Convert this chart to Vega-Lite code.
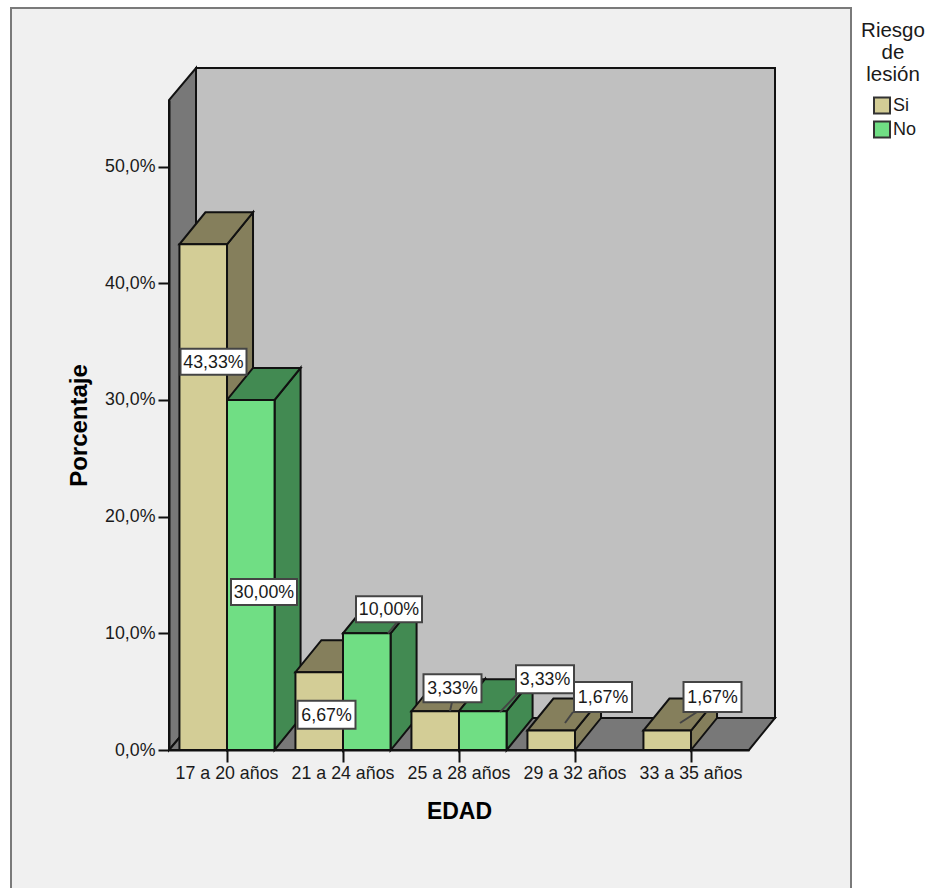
{
  "$schema": "https://vega.github.io/schema/vega-lite/v6.json",
  "autosize": "none",
  "width": 840,
  "height": 884,
  "padding": {"left": 11, "top": 8, "right": 77, "bottom": 0},
  "background": "#ffffff",
  "view": {"fill": "#f0f0f0", "stroke": "#7a7a7a", "strokeWidth": 2},
  "config": {"font": "Liberation Sans"},
  "datasets": {
    "barras": [
      {"edad": "17 a 20 años", "riesgo": "Si", "valor": 43.33, "etiqueta": "43,33%"},
      {"edad": "17 a 20 años", "riesgo": "No", "valor": 30.0, "etiqueta": "30,00%"},
      {"edad": "21 a 24 años", "riesgo": "Si", "valor": 6.67, "etiqueta": "6,67%"},
      {"edad": "21 a 24 años", "riesgo": "No", "valor": 10.0, "etiqueta": "10,00%"},
      {"edad": "25 a 28 años", "riesgo": "Si", "valor": 3.33, "etiqueta": "3,33%"},
      {"edad": "25 a 28 años", "riesgo": "No", "valor": 3.33, "etiqueta": "3,33%"},
      {"edad": "29 a 32 años", "riesgo": "Si", "valor": 1.67, "etiqueta": "1,67%"},
      {"edad": "33 a 35 años", "riesgo": "Si", "valor": 1.67, "etiqueta": "1,67%"}
    ]
  },
  "data": {"name": "barras"},
  "encoding": {
    "x": {
      "field": "edad",
      "type": "nominal",
      "sort": null,
      "scale": {
        "domain": ["17 a 20 años", "21 a 24 años", "25 a 28 años", "29 a 32 años", "33 a 35 años"],
        "range": [158, 738],
        "paddingInner": 0.18,
        "paddingOuter": 0.09
      },
      "axis": {
        "title": "EDAD",
        "titleFontSize": 23,
        "titleFontWeight": "bold",
        "titleColor": "#000000",
        "titlePadding": 19,
        "labelAngle": 0,
        "labelFontSize": 17.8,
        "labelColor": "#1a1a1a",
        "labelPadding": 2,
        "tickSize": 12,
        "tickColor": "#111111",
        "tickWidth": 2,
        "domainColor": "#111111",
        "domainWidth": 2,
        "offset": -142,
        "grid": false,
        "zindex": 1
      }
    },
    "y": {
      "field": "valor",
      "type": "quantitative",
      "scale": {"domain": [0, 55.7], "range": [742, 92], "nice": false, "zero": true},
      "axis": {
        "title": "Porcentaje",
        "titleFontSize": 24,
        "titleFontWeight": "bold",
        "titleColor": "#000000",
        "titlePadding": 13,
        "values": [0, 10, 20, 30, 40, 50],
        "labelExpr": "replace(format(datum.value, '.1f'), '.', ',') + '%'",
        "labelFontSize": 17.8,
        "labelColor": "#1a1a1a",
        "labelPadding": 3,
        "tickSize": 11,
        "tickColor": "#111111",
        "tickWidth": 2,
        "domainColor": "#111111",
        "domainWidth": 2,
        "offset": -158,
        "grid": false,
        "zindex": 1
      }
    }
  },
  "resolve": {"scale": {"fill": "independent", "shape": "independent"}},
  "layer": [
    {
      "description": "Pared del fondo",
      "transform": [{"filter": "datum.etiqueta === '43,33%'"}],
      "mark": {"type": "point", "filled": true, "opacity": 1, "size": 4, "fill": "#c0c0c0", "stroke": "#111111", "strokeWidth": 2, "shape": "M-31,-32L-31,-682L548,-682L548,-32Z"},
      "encoding": {"y": {"datum": 0, "type": "quantitative"}}
    },
    {
      "description": "Pared lateral",
      "transform": [{"filter": "datum.etiqueta === '43,33%'"}],
      "mark": {"type": "point", "filled": true, "opacity": 1, "size": 4, "fill": "#787878", "stroke": "#111111", "strokeWidth": 2, "shape": "M-58,0L-58,-650L-31,-682L-31,-32Z"},
      "encoding": {"y": {"datum": 0, "type": "quantitative"}}
    },
    {
      "description": "Suelo",
      "transform": [{"filter": "datum.etiqueta === '43,33%'"}],
      "mark": {"type": "point", "filled": true, "opacity": 1, "size": 4, "fill": "#787878", "stroke": "#111111", "strokeWidth": 2, "shape": "M-58,0L522,0L548,-32L-31,-32Z"},
      "encoding": {"y": {"datum": 0, "type": "quantitative"}}
    },
    {
      "description": "Cara lateral de cada barra; la altura de la cara sigue al valor",
      "mark": {"type": "point", "filled": true, "opacity": 1, "size": 4, "stroke": "#111111", "strokeWidth": 2},
      "encoding": {
        "xOffset": {"field": "riesgo", "type": "nominal", "scale": {"domain": ["Si", "No"], "paddingInner": 0, "paddingOuter": 0}},
        "fill": {"field": "riesgo", "type": "nominal", "legend": null, "scale": {"domain": ["Si", "No"], "range": ["#857f5c", "#428a52"]}},
        "shape": {
          "field": "etiqueta",
          "type": "nominal",
          "legend": null,
          "scale": {
            "domain": ["43,33%", "30,00%", "10,00%", "6,67%", "3,33%", "1,67%"],
            "range": [
              "M23.8,0L49.8,-32L49.8,473L23.8,505Z",
              "M23.8,0L49.8,-32L49.8,318L23.8,350Z",
              "M23.8,0L49.8,-32L49.8,85L23.8,117Z",
              "M23.8,0L49.8,-32L49.8,46L23.8,78Z",
              "M23.8,0L49.8,-32L49.8,7L23.8,39Z",
              "M23.8,0L49.8,-32L49.8,-12.5L23.8,19.5Z"
            ]
          }
        }
      }
    },
    {
      "description": "Cara superior de cada barra",
      "mark": {"type": "point", "filled": true, "opacity": 1, "size": 4, "stroke": "#111111", "strokeWidth": 2, "shape": "M-23.8,0L23.8,0L49.8,-32L2.2,-32Z"},
      "encoding": {
        "xOffset": {"field": "riesgo", "type": "nominal", "scale": {"domain": ["Si", "No"], "paddingInner": 0, "paddingOuter": 0}},
        "fill": {"field": "riesgo", "type": "nominal", "legend": null, "scale": {"domain": ["Si", "No"], "range": ["#857f5c", "#428a52"]}}
      }
    },
    {
      "description": "Cara frontal de cada barra",
      "mark": {"type": "bar", "stroke": "#111111", "strokeWidth": 2},
      "encoding": {
        "xOffset": {"field": "riesgo", "type": "nominal", "scale": {"domain": ["Si", "No"], "paddingInner": 0, "paddingOuter": 0}},
        "fill": {
          "field": "riesgo",
          "type": "nominal",
          "scale": {"domain": ["Si", "No"], "range": ["#d3cd96", "#70de84"]},
          "legend": {
            "orient": "none",
            "legendX": 850,
            "legendY": 13,
            "title": ["Riesgo", "de", "lesión"],
            "titleFontSize": 20.5,
            "titleFontWeight": "normal",
            "titleColor": "#1a1a1a",
            "titleLineHeight": 22,
            "titleAlign": "center",
            "titleAnchor": "middle",
            "titlePadding": 11,
            "labelFontSize": 18,
            "labelColor": "#1a1a1a",
            "labelOffset": 2,
            "symbolType": "square",
            "symbolSize": 256,
            "symbolOffset": 4,
            "symbolStrokeColor": "#333333",
            "symbolStrokeWidth": 2,
            "rowPadding": 0
          }
        }
      }
    },
    {
      "description": "Rótulo 43,33%",
      "transform": [{"filter": "datum.edad === '17 a 20 años' && datum.riesgo === 'Si'"}],
      "layer": [
        {"mark": {"type": "point", "filled": true, "opacity": 1, "size": 4, "fill": "#ffffff", "stroke": "#444444", "strokeWidth": 2, "xOffset": -13.5, "yOffset": 117.5, "shape": "M-33,-13H33V13H-33Z"}},
        {"mark": {"type": "text", "fontSize": 17.8, "color": "#1a1a1a", "xOffset": -13.5, "yOffset": 118.5, "baseline": "middle"}, "encoding": {"text": {"field": "etiqueta"}}}
      ]
    },
    {
      "description": "Rótulo 30,00%",
      "transform": [{"filter": "datum.edad === '17 a 20 años' && datum.riesgo === 'No'"}],
      "layer": [
        {"mark": {"type": "point", "filled": true, "opacity": 1, "size": 4, "fill": "#ffffff", "stroke": "#444444", "strokeWidth": 2, "xOffset": 37, "yOffset": 192, "shape": "M-33,-13H33V13H-33Z"}},
        {"mark": {"type": "text", "fontSize": 17.8, "color": "#1a1a1a", "xOffset": 37, "yOffset": 193, "baseline": "middle"}, "encoding": {"text": {"field": "etiqueta"}}}
      ]
    },
    {
      "description": "Rótulo 6,67%",
      "transform": [{"filter": "datum.edad === '21 a 24 años' && datum.riesgo === 'Si'"}],
      "layer": [
        {"mark": {"type": "point", "filled": true, "opacity": 1, "size": 4, "fill": "#ffffff", "stroke": "#444444", "strokeWidth": 2, "xOffset": -16.5, "yOffset": 42.5, "shape": "M-29,-14H29V14H-29Z"}},
        {"mark": {"type": "text", "fontSize": 17.8, "color": "#1a1a1a", "xOffset": -16.5, "yOffset": 43.5, "baseline": "middle"}, "encoding": {"text": {"field": "etiqueta"}}}
      ]
    },
    {
      "description": "Rótulo 10,00% con su guía",
      "transform": [{"filter": "datum.edad === '21 a 24 años' && datum.riesgo === 'No'"}],
      "layer": [
        {"mark": {"type": "point", "filled": true, "opacity": 1, "size": 4, "fill": "#ffffff", "stroke": "#444444", "strokeWidth": 2, "xOffset": 46, "yOffset": -24, "shape": "M-33,-13H33V13H-33ZM-1,24L8,13"}},
        {"mark": {"type": "text", "fontSize": 17.8, "color": "#1a1a1a", "xOffset": 46, "yOffset": -23, "baseline": "middle"}, "encoding": {"text": {"field": "etiqueta"}}}
      ]
    },
    {
      "description": "Rótulo 3,33% de Si con su guía",
      "transform": [{"filter": "datum.edad === '25 a 28 años' && datum.riesgo === 'Si'"}],
      "layer": [
        {"mark": {"type": "point", "filled": true, "opacity": 1, "size": 4, "fill": "#ffffff", "stroke": "#444444", "strokeWidth": 2, "xOffset": -6.5, "yOffset": -23, "shape": "M-29,-14H29V14H-29ZM-2.5,23L-0.5,14"}},
        {"mark": {"type": "text", "fontSize": 17.8, "color": "#1a1a1a", "xOffset": -6.5, "yOffset": -22, "baseline": "middle"}, "encoding": {"text": {"field": "etiqueta"}}}
      ]
    },
    {
      "description": "Rótulo 3,33% de No con su guía",
      "transform": [{"filter": "datum.edad === '25 a 28 años' && datum.riesgo === 'No'"}],
      "layer": [
        {"mark": {"type": "point", "filled": true, "opacity": 1, "size": 4, "fill": "#ffffff", "stroke": "#444444", "strokeWidth": 2, "xOffset": 86, "yOffset": -32, "shape": "M-29,-14H29V14H-29ZM-45,33L-27,14"}},
        {"mark": {"type": "text", "fontSize": 17.8, "color": "#1a1a1a", "xOffset": 86, "yOffset": -31, "baseline": "middle"}, "encoding": {"text": {"field": "etiqueta"}}}
      ]
    },
    {
      "description": "Rótulo 1,67% de 29 a 32 años con su guía",
      "transform": [{"filter": "datum.edad === '29 a 32 años'"}],
      "layer": [
        {"mark": {"type": "point", "filled": true, "opacity": 1, "size": 4, "fill": "#ffffff", "stroke": "#444444", "strokeWidth": 2, "xOffset": 28, "yOffset": -33.5, "shape": "M-29,-15H29V15H-29ZM-38,26L-30,15"}},
        {"mark": {"type": "text", "fontSize": 17.8, "color": "#1a1a1a", "xOffset": 28, "yOffset": -32.5, "baseline": "middle"}, "encoding": {"text": {"field": "etiqueta"}}}
      ]
    },
    {
      "description": "Rótulo 1,67% de 33 a 35 años con su guía",
      "transform": [{"filter": "datum.edad === '33 a 35 años'"}],
      "layer": [
        {"mark": {"type": "point", "filled": true, "opacity": 1, "size": 4, "fill": "#ffffff", "stroke": "#444444", "strokeWidth": 2, "xOffset": 21.5, "yOffset": -33.5, "shape": "M-29,-15H29V15H-29ZM-32.5,26L-15.5,15"}},
        {"mark": {"type": "text", "fontSize": 17.8, "color": "#1a1a1a", "xOffset": 21.5, "yOffset": -32.5, "baseline": "middle"}, "encoding": {"text": {"field": "etiqueta"}}}
      ]
    }
  ]
}
